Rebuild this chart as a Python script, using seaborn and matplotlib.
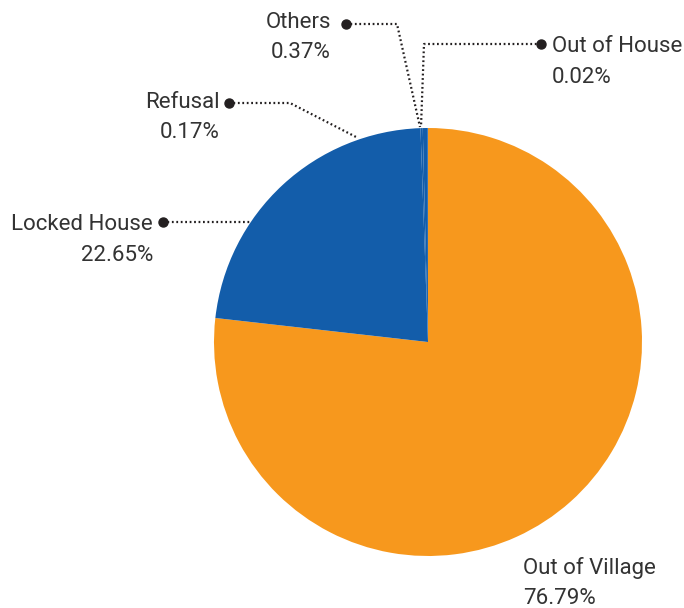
import matplotlib
matplotlib.use("Agg")
import matplotlib.pyplot as plt
import seaborn as sns

# slice data, clockwise from 12 o'clock
categories = ["Out of Village", "Locked House", "Refusal", "Others", "Out of House"]
shares = [76.79, 22.65, 0.17, 0.37, 0.02]
pct_labels = ["76.79%", "22.65%", "0.17%", "0.37%", "0.02%"]
slice_colors = ["#F7981D", "#135DAA", "#135DAA", "#135DAA", "#135DAA"]

W, H = 684, 608

sns.set_theme(style="white")
plt.rcParams["font.family"] = ["Roboto", "DejaVu Sans"]

fig = plt.figure(figsize=(W / 100, H / 100), dpi=100)
ax = fig.add_axes([0, 0, 1, 1])

ax.pie(shares, colors=slice_colors, startangle=90, counterclock=False,
       center=(428, H - 342), radius=214,
       wedgeprops=dict(linewidth=0))
ax.set_xlim(0, W)
ax.set_ylim(0, H)
ax.set_aspect("equal")
ax.axis("off")

txt_color = "#333333"
dot_color = "#231F20"
fs = 16

# label layout (pixel coords, y down): text x, name baseline, pct baseline, align, leader path
layout = {
    "Out of Village": dict(x=523, y1=574, y2=604, ha="left", path=None),
    "Locked House": dict(x=153, y1=230, y2=261, ha="right",
                         path=[(163, 222), (251, 222)]),
    "Refusal": dict(x=220, y1=108, y2=138, ha="right",
                    path=[(229, 103), (290, 103), (358, 138)]),
    "Others": dict(x=331, y1=28, y2=58, ha="right",
                   path=[(346, 24), (397, 24), (420, 127)]),
    "Out of House": dict(x=552, y1=52, y2=83, ha="left",
                         path=[(541, 44), (424, 44), (421, 127)]),
}

for name, pct in zip(categories, pct_labels):
    lay = layout[name]
    ax.text(lay["x"], H - lay["y1"], name, ha=lay["ha"], va="baseline",
            fontsize=fs, color=txt_color)
    ax.text(lay["x"], H - lay["y2"], pct, ha=lay["ha"], va="baseline",
            fontsize=fs, color=txt_color)
    if lay["path"]:
        xs = [p[0] for p in lay["path"]]
        ys = [H - p[1] for p in lay["path"]]
        ax.plot(xs, ys, color=dot_color, linewidth=1.6,
                linestyle=(0, (0.8, 1.2)), solid_capstyle="butt")
        ax.plot(xs[0], ys[0], "o", color=dot_color, markersize=6.5)

fig.savefig("out.png", dpi=100)
